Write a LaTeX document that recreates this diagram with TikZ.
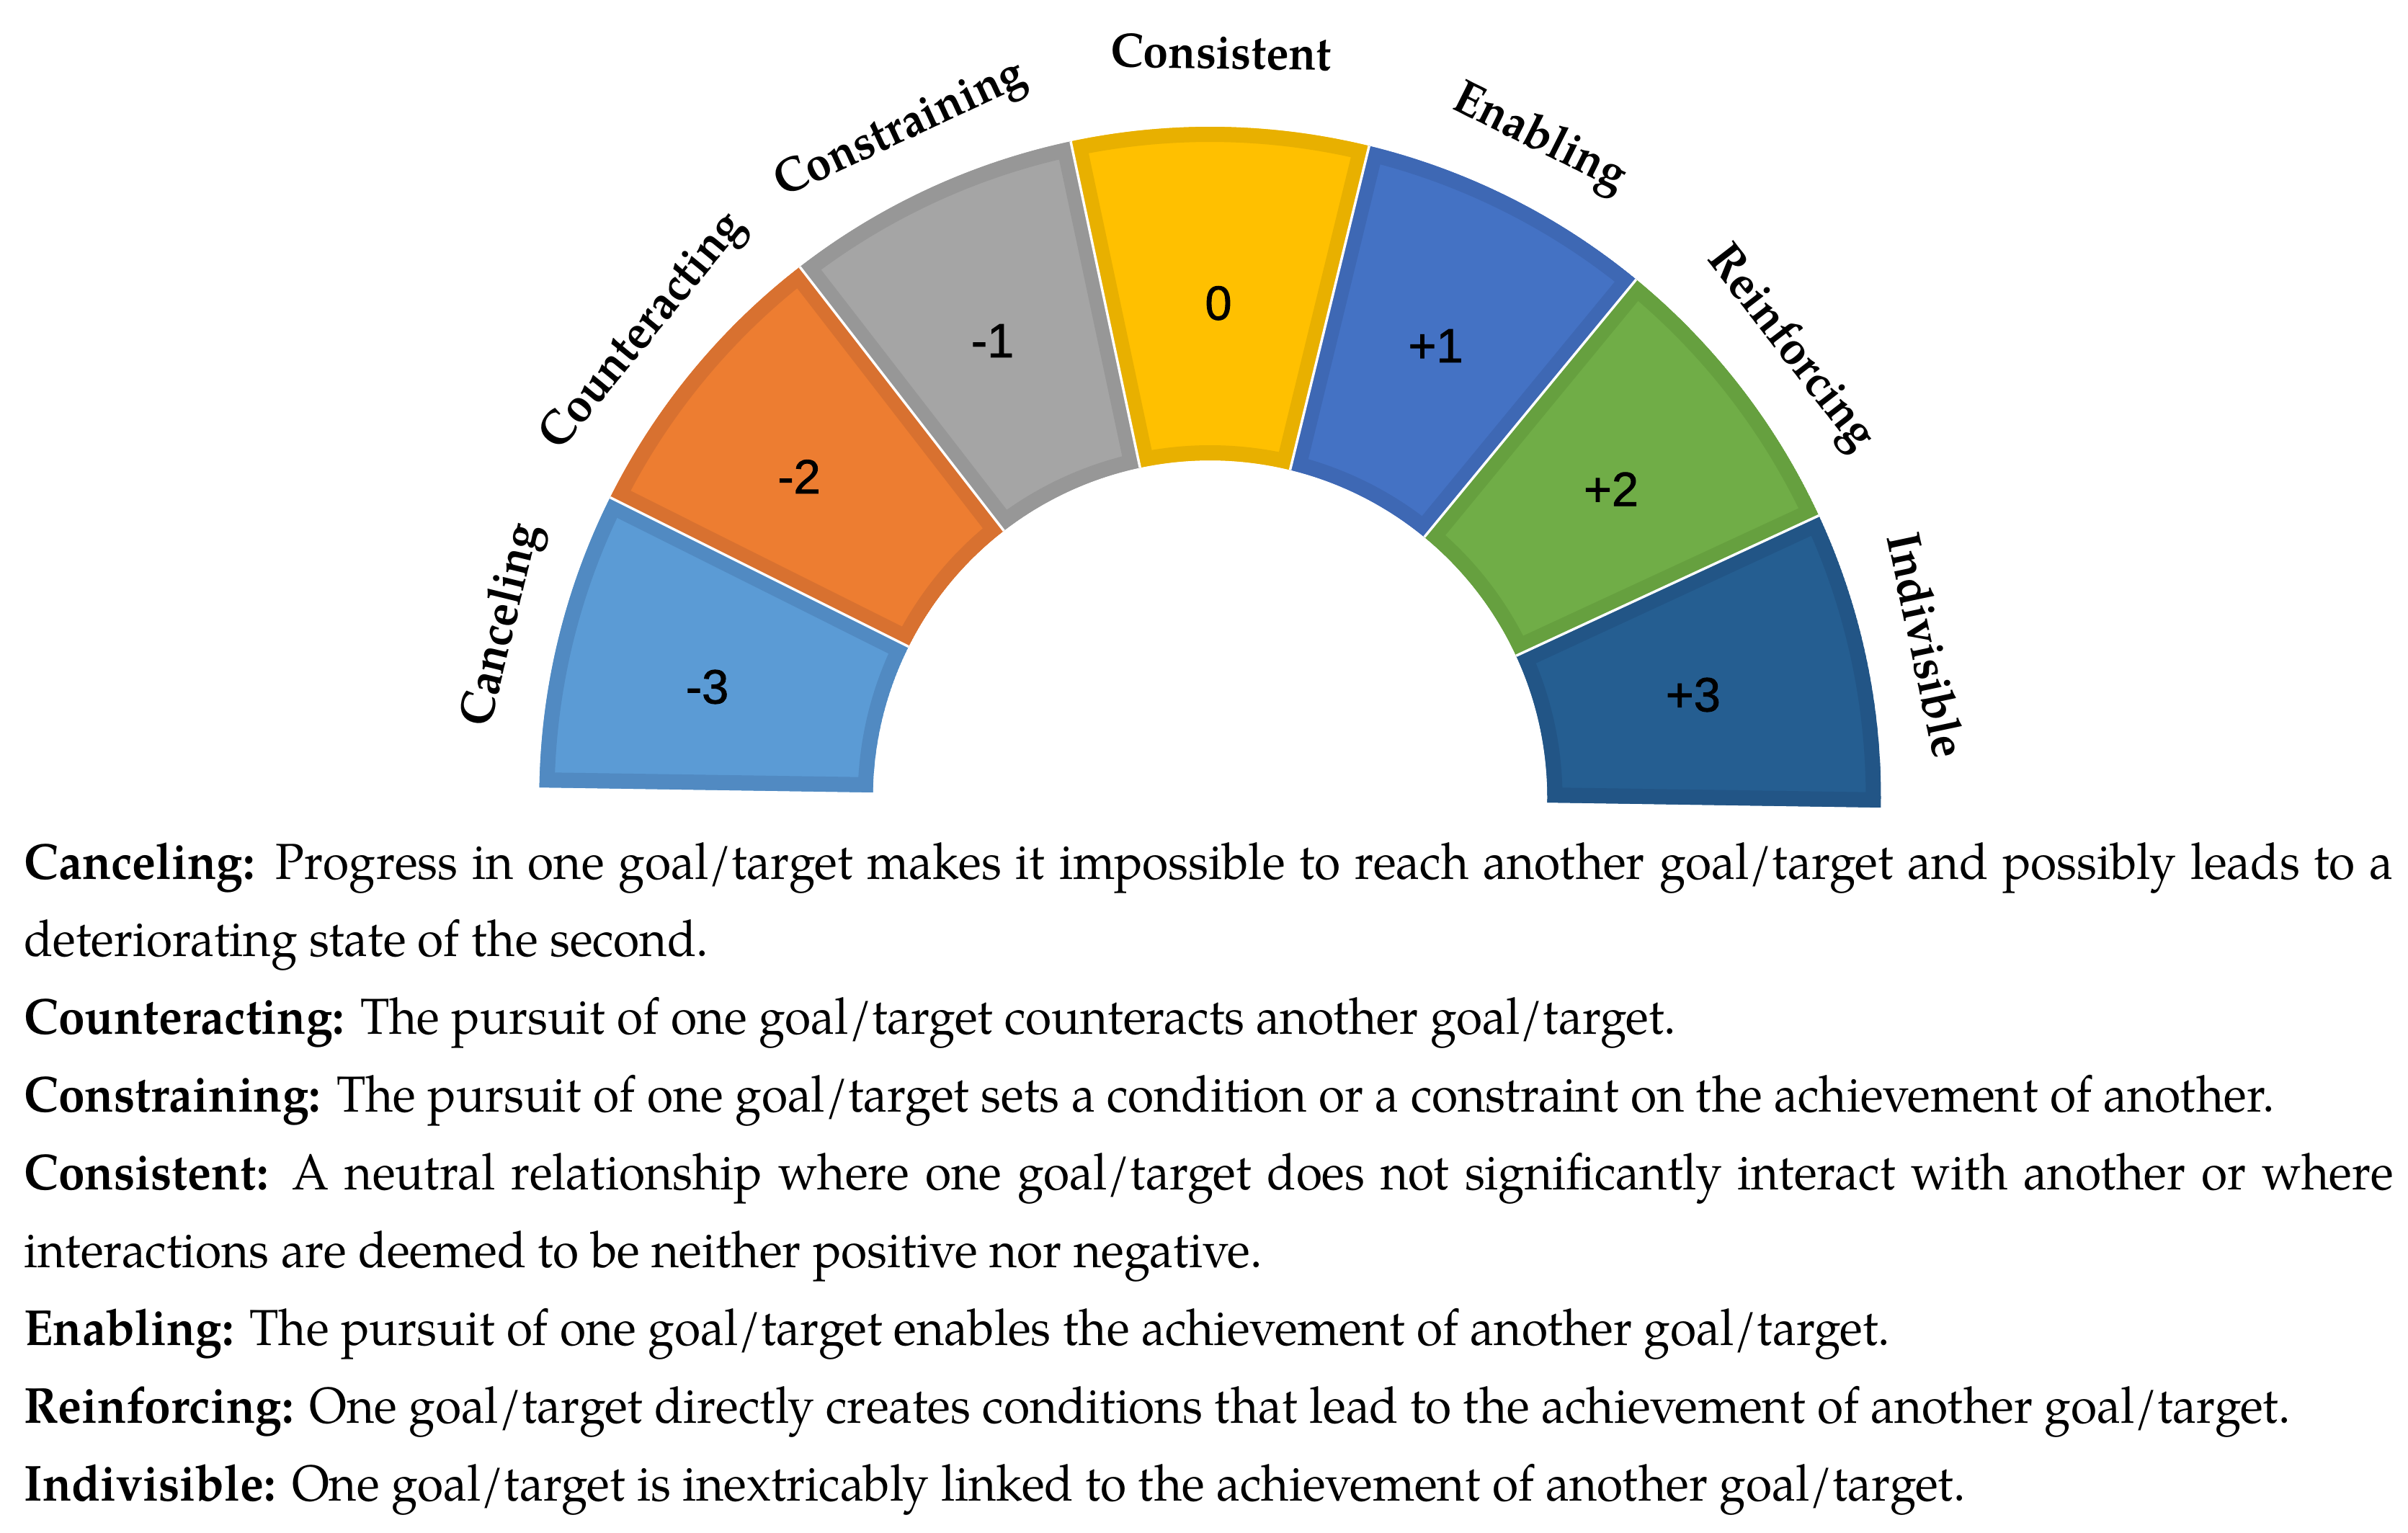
\documentclass[tikz,border=0pt]{standalone}
\usepackage{fontspec}
\setmainfont[FakeStretch=0.937]{TeX Gyre Pagella}
\newfontfamily\numfont[FakeBold=1.3]{Liberation Sans}
\definecolor{f1}{HTML}{5B9BD5}\definecolor{b1}{HTML}{518AC2}
\definecolor{f2}{HTML}{ED7D31}\definecolor{b2}{HTML}{D87130}
\definecolor{f3}{HTML}{A5A5A5}\definecolor{b3}{HTML}{979797}
\definecolor{f4}{HTML}{FFC000}\definecolor{b4}{HTML}{E8B000}
\definecolor{f5}{HTML}{4472C4}\definecolor{b5}{HTML}{3E68B4}
\definecolor{f6}{HTML}{70AD47}\definecolor{b6}{HTML}{66A03F}
\definecolor{f7}{HTML}{255E91}\definecolor{b7}{HTML}{225586}
\tikzset{
  segnum/.style={font=\numfont\fontsize{19}{21}\selectfont, inner sep=0pt, text=black},
  seglabel/.style={font=\fontsize{19}{22}\selectfont\bfseries, inner sep=0pt, anchor=base},
  bodytext/.style={font=\fontsize{20}{30.7}\selectfont, inner sep=0pt, anchor=base west, text width=32.88cm, align=justify},
  gapline/.style={white, line width=0.035cm}
}
\newcommand\gaugeseg[7]{%
  % #1 index, #2 fill, #3 band, #4 label node, #5 label, #6 label radius
  \pgfmathsetmacro\aS{180-\rot-#1*\segw}%
  \pgfmathsetmacro\aE{\aS-\segw}%
  \pgfmathsetmacro\aM{\aS-\segw/2}%
  \begin{scope}
    \clip (\aS:\Rin) -- (\aS:\Rout) arc[start angle=\aS,end angle=\aE,radius=\Rout] -- (\aE:\Rin) arc[start angle=\aE,end angle=\aS,radius=\Rin] -- cycle;
    \fill[#2] (\aS:\Rin) -- (\aS:\Rout) arc[start angle=\aS,end angle=\aE,radius=\Rout] -- (\aE:\Rin) arc[start angle=\aE,end angle=\aS,radius=\Rin] -- cycle;
    \draw[#3, line width=0.42cm] (\aS:\Rin) -- (\aS:\Rout) arc[start angle=\aS,end angle=\aE,radius=\Rout] -- (\aE:\Rin) arc[start angle=\aE,end angle=\aS,radius=\Rin] -- cycle;
  \end{scope}
  \node[seglabel, rotate=\aM-90] (#4) at (\aM:#6) {#5};
}
\begin{document}
\begin{tikzpicture}[x=1cm,y=1cm]
\useasboundingbox (0,0) rectangle (33.42,-21.28);
\coordinate (C) at (16.795,-11.07);
\def\Rin{4.68}\def\Rout{9.31}\def\rot{0.86}\def\segw{25.7142857}
\begin{scope}[shift={(C)}]
  \gaugeseg{0}{f1}{b1}{lcan}{Canceling}{9.94}{}
  \gaugeseg{1}{f2}{b2}{lcou}{Counteracting}{10.02}{}
  \gaugeseg{2}{f3}{b3}{lcst}{Constraining}{10.05}{}
  \gaugeseg{3}{f4}{b4}{lcon}{Consistent}{10.12}{}
  \gaugeseg{4}{f5}{b5}{lena}{Enabling}{10.06}{}
  \gaugeseg{5}{f6}{b6}{lrei}{Reinforcing}{10.02}{}
  \gaugeseg{6}{f7}{b7}{lind}{Indivisible}{9.94}{}
  \foreach \k in {1,...,6}{
    \pgfmathsetmacro\aB{180-\rot-\k*\segw}
    \draw[gapline] (\aB:\Rin) -- (\aB:\Rout);
  }
\end{scope}
\node[segnum] (nm3) at (9.816,-9.535) {-3};
\node[segnum] (nm2) at (11.09,-6.616) {-2};
\node[segnum] (nm1) at (13.776,-4.73) {-1};
\node[segnum] (nz) at (16.91,-4.208) {0};
\node[segnum] (np1) at (19.925,-4.80) {+1};
\node[segnum] (np2) at (22.36,-6.79) {+2};
\node[segnum] (np3) at (23.498,-9.645) {+3};
\node[bodytext] (body) at (0.33,-12.20) {\parindent=0pt\hyphenpenalty=10000\exhyphenpenalty=10000
\textbf{Canceling:} Progress in one goal/target makes it impossible to reach another goal/target and possibly leads to a\linebreak deteriorating state of the second.\par
\textbf{Counteracting:} The pursuit of one goal/target counteracts another goal/target.\par
\textbf{Constraining:} The pursuit of one goal/target sets a condition or a constraint on the achievement of another.\par
\textbf{Consistent:} A neutral relationship where one goal/target does not significantly interact with another or where\linebreak interactions are deemed to be neither positive nor negative.\par
\textbf{Enabling:} The pursuit of one goal/target enables the achievement of another goal/target.\par
\textbf{Reinforcing:} One goal/target directly creates conditions that lead to the achievement of another goal/target.\par
\textbf{Indivisible:} One goal/target is inextricably linked to the achievement of another goal/target.};
\end{tikzpicture}
\end{document}
